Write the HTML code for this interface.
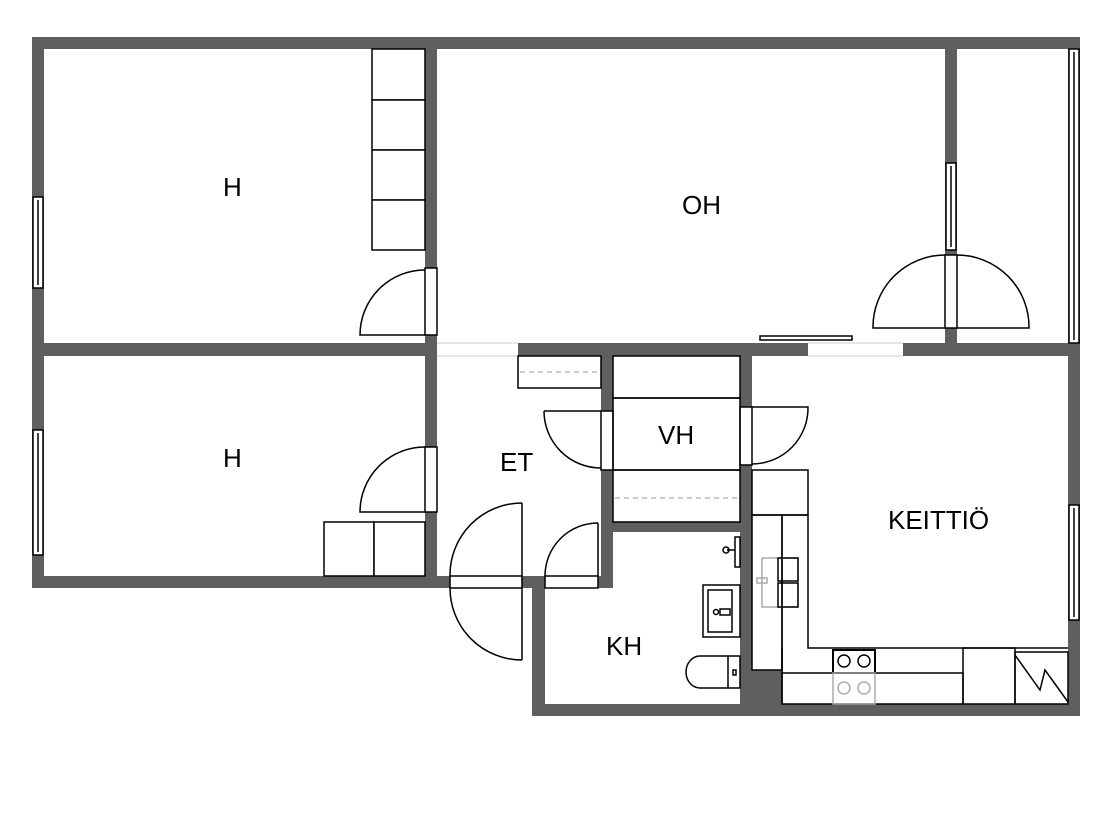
<!DOCTYPE html>
<html><head><meta charset="utf-8"><style>
html,body{margin:0;padding:0;background:#fff;}
svg{display:block;}
text{font-family:"Liberation Sans",sans-serif;font-size:26px;fill:#000;}
</style></head><body>
<svg width="1112" height="834" viewBox="0 0 1112 834">
<g fill="#5f5f5f">
<rect x="32" y="37" width="1048" height="12"/>
<rect x="32" y="37" width="12" height="551"/>
<rect x="1068" y="37" width="12" height="679"/>
<rect x="32" y="343" width="405" height="13"/>
<rect x="518" y="343" width="290" height="13"/>
<rect x="903" y="343" width="177" height="13"/>
<rect x="425" y="37" width="12" height="551"/>
<rect x="945" y="37" width="12" height="308"/>
<rect x="32" y="576" width="418" height="12"/>
<rect x="522" y="576" width="23" height="12"/>
<rect x="598" y="576" width="15" height="12"/>
<rect x="601" y="356" width="12" height="232"/>
<rect x="740" y="356" width="12" height="360"/>
<rect x="613" y="522" width="127" height="10"/>
<rect x="532" y="578" width="13" height="138"/>
<rect x="532" y="704" width="548" height="12"/>
<rect x="740" y="670" width="42" height="46"/>
</g>
<g fill="#fff" stroke="#000" stroke-width="1.5">
<rect x="33" y="197" width="10" height="91"/><line x1="38" y1="200" x2="38" y2="285"/>
<rect x="33" y="430" width="10" height="125"/><line x1="38" y1="433" x2="38" y2="552"/>
<rect x="1069" y="505" width="10" height="115"/><line x1="1074" y1="508" x2="1074" y2="617"/>
<rect x="946" y="163" width="10" height="87"/><line x1="951" y1="166" x2="951" y2="247"/>
<rect x="1069" y="49" width="10" height="294"/><line x1="1074" y1="52" x2="1074" y2="340"/>
<rect x="372" y="49" width="53" height="51"/><rect x="372" y="100" width="53" height="50"/>
<rect x="372" y="150" width="53" height="50"/><rect x="372" y="200" width="53" height="50"/>
<rect x="324" y="522" width="50" height="54"/><rect x="374" y="522" width="51" height="54"/>
<rect x="425" y="268" width="12" height="67"/>
<rect x="425" y="447" width="12" height="65"/>
<rect x="945" y="255" width="12" height="73"/>
<rect x="601" y="411" width="12" height="59"/>
<rect x="740" y="407" width="12" height="58"/>
<rect x="450" y="576" width="72" height="12"/>
<rect x="545" y="576" width="53" height="12"/>
</g>
<g fill="none" stroke="#000" stroke-width="1.5">
<path d="M425 270 A65 65 0 0 0 360 335 L425 335"/>
<path d="M425 447 A65 65 0 0 0 360 512 L425 512"/>
<path d="M945 255 A72 72 0 0 0 873 328 L945 328"/>
<path d="M957 255 A72 72 0 0 1 1029 328 L957 328"/>
<path d="M544 411 L601 411 M544 411 A57 57 0 0 0 601 468"/>
<path d="M752 407 L808 407 A56 56 0 0 1 752 464"/>
<path d="M522 503 A72 72 0 0 0 450 576 M450 588 A72 72 0 0 0 522 660 M522 503 L522 576 M522 588 L522 660"/>
<path d="M598 523 A53 53 0 0 0 545 576 M598 523 L598 576"/>
<rect x="760" y="336" width="92" height="4"/>
<path d="M437 343 L518 343 M437 356 L518 356 M808 343 L903 343 M808 356 L903 356" stroke="#ccc" stroke-width="1"/>
<rect x="518" y="356" width="83" height="32"/>
<rect x="613" y="356" width="127" height="42"/>
<rect x="613" y="398" width="127" height="72"/>
<rect x="613" y="470" width="127" height="52"/>
<rect x="752" y="470" width="56" height="45"/>
<rect x="752" y="515" width="30" height="155"/>
<path d="M782 515 L808 515 L808 648 L1068 648"/>
<line x1="782" y1="515" x2="782" y2="704"/>
<rect x="782" y="673" width="181" height="31"/>
<line x1="782" y1="648" x2="782" y2="673"/>
<rect x="963" y="648" width="52" height="56"/>
<rect x="1015" y="652" width="53" height="52"/>
<path d="M1015 655 L1040 690 L1045 670 L1068 702"/>
<rect x="833" y="650" width="42" height="23" stroke-width="2"/>
<circle cx="844" cy="661" r="6"/><circle cx="864" cy="661" r="6"/>
<g stroke="#aaa"><rect x="833" y="673" width="42" height="31"/><circle cx="844" cy="688" r="6"/><circle cx="864" cy="688" r="6"/>
<rect x="762" y="558" width="36" height="49"/><rect x="757" y="578" width="10" height="5"/></g>
<rect x="778" y="558" width="20" height="23"/><rect x="778" y="583" width="20" height="24"/>
<rect x="703" y="585" width="37" height="52"/><rect x="708" y="590" width="24" height="42"/>
<rect x="720" y="609" width="10" height="6"/><circle cx="716" cy="612" r="2.5"/>
<path d="M728 656 L700 656 A14 16 0 0 0 700 688 L740 688 L740 656 Z"/>
<line x1="728" y1="656" x2="728" y2="688"/><rect x="733" y="670" width="3" height="5"/>
<rect x="735" y="537" width="5" height="30"/><path d="M735 550 L727 550"/><circle cx="726" cy="550" r="3"/>
</g>
<g stroke="#999" stroke-dasharray="5,4">
<line x1="520" y1="372" x2="600" y2="372"/>
<line x1="615" y1="498" x2="738" y2="498"/>
</g>
<text x="223" y="196">H</text>
<text x="682" y="214">OH</text>
<text x="223" y="467">H</text>
<text x="500" y="471">ET</text>
<text x="658" y="444">VH</text>
<text x="888" y="529">KEITTIÖ</text>
<text x="606" y="655">KH</text>
</svg>
</body></html>
